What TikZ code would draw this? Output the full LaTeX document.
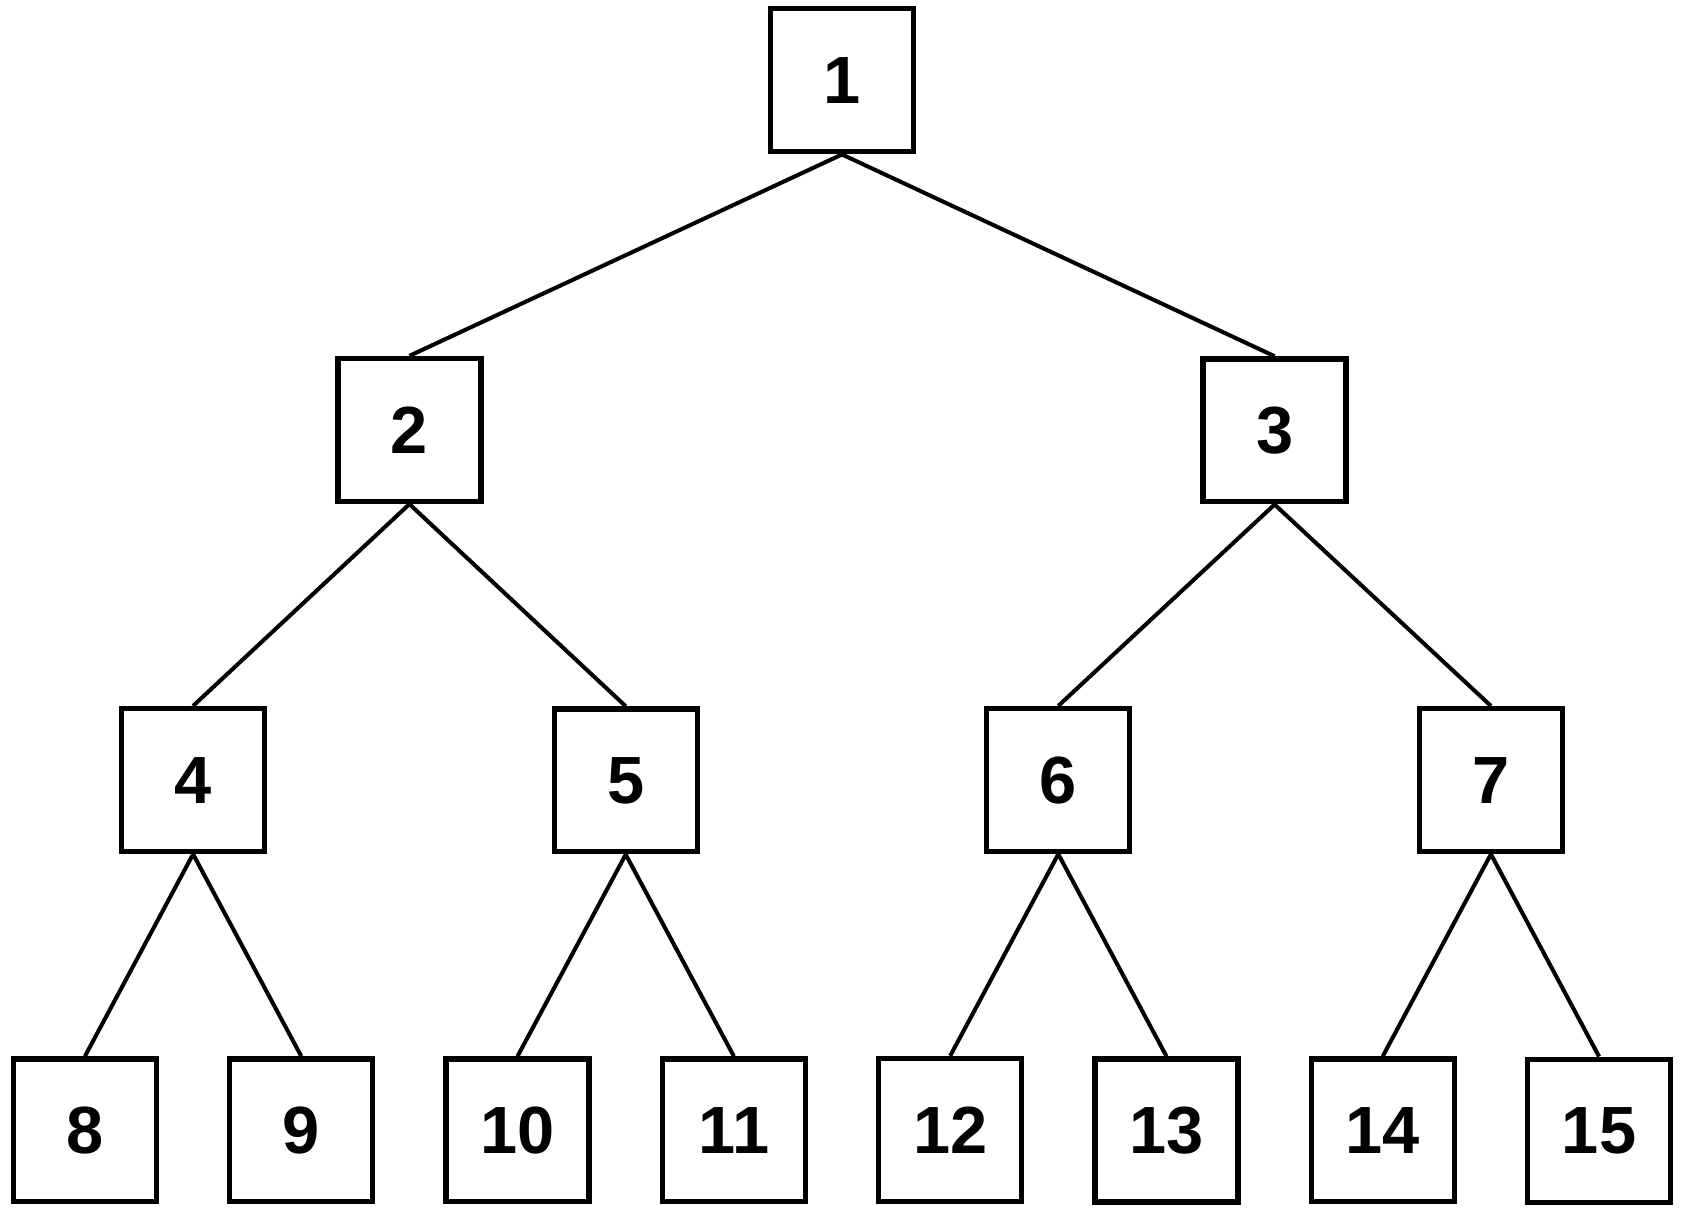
\documentclass[tikz,border=0pt]{standalone}
\usepackage{fontspec}
\setmainfont{Liberation Sans}
\usetikzlibrary{matrix}

\begin{document}
\begin{tikzpicture}[x=0.02cm,y=0.02cm]
			\useasboundingbox (0,0) rectangle (1686,-1218);
			\matrix(m) at (842,-605.5) [matrix of nodes, row sep=4.029cm, column sep=-0.802cm,
			  nodes={draw, line width=3pt, minimum size=2.86cm, inner sep=0pt,
			    font=\fontsize{38}{40}\selectfont\bfseries}]
			{ & & & & & & & 1 & & & & & & & \\
			& & & 2 & & & & & & & & 3 & & & \\
			& 4 & & & & 5 & & & & 6 & & & & 7 & \\
			8 & & 9 & & 10 & & 11 & & 12 & & 13 & & 14 & & 15 \\};
			\path[line width=2.3pt]
			(m-1-8.south) edge (m-2-4.north)
			  edge (m-2-12.north)
			(m-2-4.south) edge (m-3-2.north)
			  edge (m-3-6.north)
			(m-2-12.south) edge (m-3-10.north)
			  edge (m-3-14.north)
			(m-3-2.south) edge (m-4-1.north)
			  edge (m-4-3.north)
			(m-3-6.south) edge (m-4-5.north)
			  edge (m-4-7.north)
			(m-3-10.south) edge (m-4-9.north)
			  edge (m-4-11.north)
			(m-3-14.south) edge (m-4-13.north)
			  edge (m-4-15.north);
		\end{tikzpicture}
\end{document}
